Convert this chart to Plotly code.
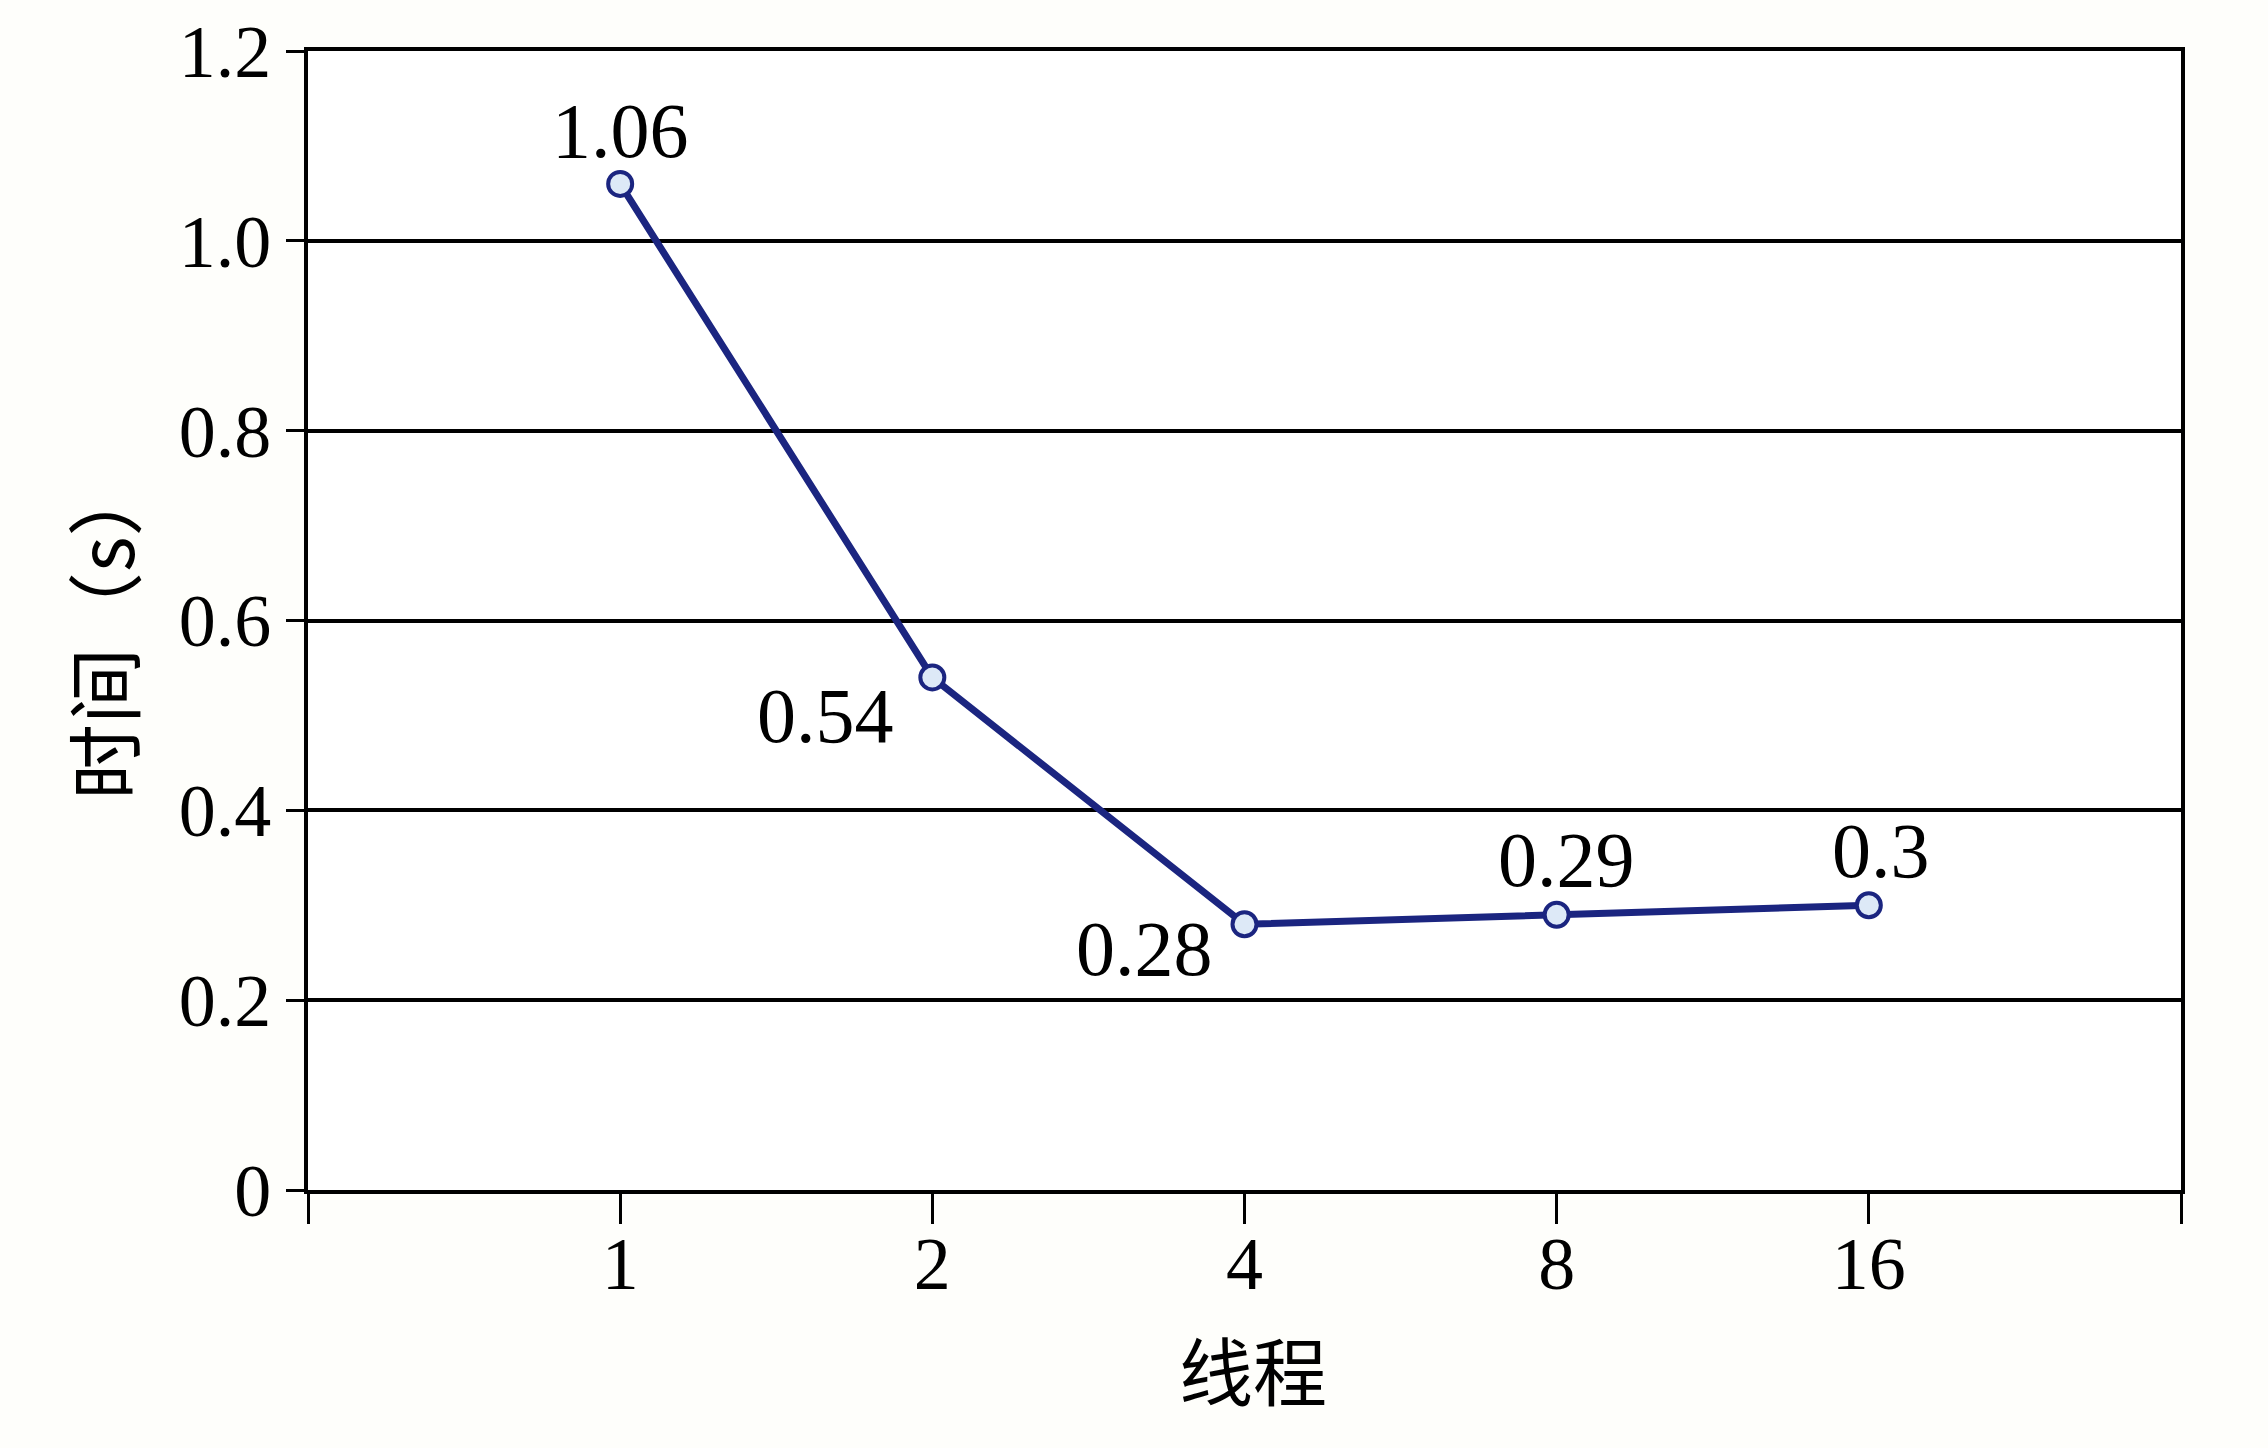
import plotly.graph_objects as go

# ---- data ----
threads = ["1", "2", "4", "8", "16"]
times = [1.06, 0.54, 0.28, 0.29, 0.3]
value_labels = ["1.06", "0.54", "0.28", "0.29", "0.3"]
y_ticks = [0, 0.2, 0.4, 0.6, 0.8, 1.0, 1.2]
y_tick_text = ["0", "0.2", "0.4", "0.6", "0.8", "1.0", "1.2"]
x_title = "线程"
y_title = "时间（s）"

# positions of categories on the numeric axis
xpos = list(range(1, len(threads) + 1))

# label offsets (style only)
label_dx = [0, -107, -100, 10, 12]
label_dy = [53, -38, -24, 55, 55]

NAVY = "#1b2580"
SERIF = "Liberation Serif, Times New Roman, serif"
CJK = "Noto Sans CJK SC, sans-serif"

fig = go.Figure()
fig.add_trace(go.Scatter(
    x=xpos, y=times, mode="lines+markers",
    line=dict(color=NAVY, width=7),
    marker=dict(size=24, color="#dde9f7", line=dict(color=NAVY, width=4)),
    showlegend=False, hoverinfo="skip",
))

for xp, yv, t, dx, dy in zip(xpos, times, value_labels, label_dx, label_dy):
    fig.add_annotation(x=xp, y=yv, xref="x", yref="y", text=t, showarrow=False,
                       xanchor="center", yanchor="middle", xshift=dx, yshift=dy,
                       font=dict(family=SERIF, size=78, color="black"))

fig.add_annotation(x=1253, y=1367, xref="paper", yref="paper", text=x_title,
                   showarrow=False, font=dict(family=CJK, size=74, color="black"))
fig.add_annotation(x=101, y=630, xref="paper", yref="paper", text=y_title,
                   textangle=-90, showarrow=False,
                   font=dict(family=CJK, size=76, color="black"))

W, H = 2268, 1448
L, R, T, B = 308, 87, 51, 258
# convert pixel positions of titles into paper coords
for ann in fig.layout.annotations[-2:]:
    px, py = ann.x, ann.y
    ann.x = (px - L) / (W - L - R)
    ann.y = 1 - (py - T) / (H - T - B)
    ann.xanchor = "center"
    ann.yanchor = "middle"

fig.update_xaxes(
    range=[0, len(threads) + 1],
    tickvals=[0] + xpos + [len(threads) + 1],
    ticktext=[""] + threads + [""],
    ticks="outside", ticklen=30, tickwidth=3, tickcolor="black",
    ticklabelstandoff=-24,
    showline=True, linecolor="black", linewidth=4, mirror=True,
    showgrid=False, zeroline=False,
    tickfont=dict(family=SERIF, size=74, color="black"),
)
fig.update_yaxes(
    range=[0, 1.2],
    tickvals=y_ticks, ticktext=y_tick_text,
    ticks="outside", ticklen=18, tickwidth=3, tickcolor="black",
    showline=True, linecolor="black", linewidth=4, mirror=True,
    showgrid=True, gridcolor="black", gridwidth=4, zeroline=False,
    tickfont=dict(family=SERIF, size=74, color="black"),
)
fig.update_layout(
    width=W, height=H,
    margin=dict(l=L, r=R, t=T, b=B, pad=0),
    paper_bgcolor="#fefefb", plot_bgcolor="white",
)
fig.write_html("out.html")
